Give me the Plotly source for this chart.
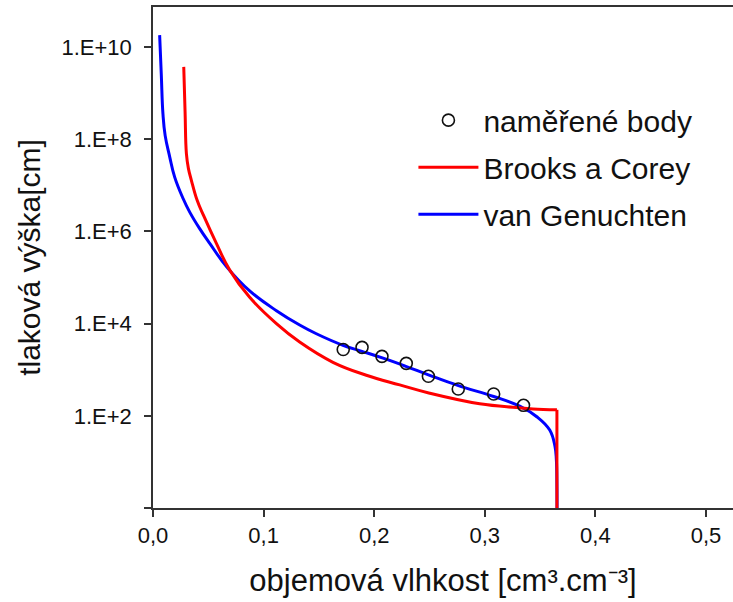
import plotly.graph_objects as go

# measured points
meas_theta = [0.172, 0.189, 0.207, 0.229, 0.249, 0.276, 0.308, 0.335]
meas_h = [2750, 3060, 1950, 1377, 720, 381, 297, 169]

# Brooks a Corey curve: unsaturated branch, then saturated drop
bc_theta = [0.0278, 0.0290, 0.0302, 0.0320, 0.0347, 0.0400, 0.0460, 0.0573, 0.0694,
            0.0874, 0.1116, 0.1326, 0.1627, 0.1929, 0.2231, 0.2502, 0.2954,
            0.3286, 0.3436, 0.3652]
bc_h = [3.72e9, 3.98e8, 4.90e7, 2.34e7, 1.29e7, 4.68e6, 2.14e6, 5.50e5, 1.45e5,
        3.72e4, 1.00e4, 3.98e3, 1.45e3, 759, 468, 309, 182,
        151, 141, 135]
bc_sat_theta = [0.3652, 0.3652]
bc_sat_h = [135, 0.3]

# van Genuchten curve
vg_theta = [0.0060, 0.0075, 0.0090, 0.0110, 0.0151, 0.0196, 0.0271, 0.0332, 0.0422,
            0.0513, 0.0670, 0.0874, 0.1116, 0.1326, 0.1477, 0.1718, 0.1890, 0.2080,
            0.2280, 0.2490, 0.2755, 0.3080, 0.3316, 0.3470, 0.3587, 0.3635, 0.3647,
            0.3652, 0.3653]
vg_h = [1.82e10, 2.51e9, 3.55e8, 1.20e8, 4.17e7, 1.51e7, 5.25e6, 2.63e6, 1.15e6,
        5.50e5, 1.66e5, 5.13e4, 1.91e4, 9.33e3, 6.03e3, 3.39e3, 2.51e3, 1.78e3,
        1.20e3, 776, 457, 263, 162, 95.5, 49, 21.4, 11,
        3.16, 0.316]

x_tickvals = [0.0, 0.1, 0.2, 0.3, 0.4, 0.5]
x_ticktext = ["0,0", "0,1", "0,2", "0,3", "0,4", "0,5"]
y_tickvals = [1, 1e2, 1e4, 1e6, 1e8, 1e10]
y_ticktext = ["", "1.E+2", "1.E+4", "1.E+6", "1.E+8", "1.E+10"]

FONT = "Arial, Liberation Sans, sans-serif"
RED = "#FF0000"
BLUE = "#0000FF"

fig = go.Figure()
fig.add_trace(go.Scatter(x=vg_theta, y=vg_h, mode="lines", name="van Genuchten",
                         line=dict(color=BLUE, width=3, shape="spline", smoothing=1.2),
                         legendrank=3, legendgroup="c"))
fig.add_trace(go.Scatter(x=bc_theta, y=bc_h, mode="lines", name="Brooks a Corey",
                         line=dict(color=RED, width=3, shape="spline", smoothing=1.2),
                         legendrank=2, legendgroup="b"))
fig.add_trace(go.Scatter(x=bc_sat_theta, y=bc_sat_h, mode="lines", name="Brooks a Corey",
                         line=dict(color=RED, width=3), showlegend=False,
                         legendgroup="b"))
fig.add_trace(go.Scatter(x=meas_theta, y=meas_h, mode="markers", name="naměřené body",
                         marker=dict(symbol="circle-open", size=12, color="#111111",
                                     line=dict(width=1.6, color="#111111")),
                         legendrank=1, legendgroup="a"))

fig.update_layout(
    width=733, height=602,
    margin=dict(l=153, r=0, t=7, b=94),
    paper_bgcolor="white", plot_bgcolor="white",
    font=dict(family=FONT, color="#111111"),
    showlegend=True,
    legend=dict(x=0.449, y=0.826, xanchor="left", yanchor="top",
                font=dict(size=30, family=FONT, color="#111111"),
                tracegroupgap=5, itemwidth=60, bgcolor="rgba(0,0,0,0)"),
    xaxis=dict(range=[0, 0.5244], tickvals=x_tickvals, ticktext=x_ticktext,
               ticks="outside", ticklen=7, tickwidth=1.5, tickcolor="#333333",
               showline=True, linecolor="#333333", linewidth=1.5, mirror=True,
               showgrid=False, zeroline=False,
               tickfont=dict(size=22, family=FONT, color="#111111"),
               title=dict(text="objemová vlhkost [cm³.cm⁻³]",
                          font=dict(size=31, family=FONT, color="#111111"),
                          standoff=22)),
    yaxis=dict(type="log", range=[0, 10.87], tickvals=y_tickvals, ticktext=y_ticktext,
               ticks="outside", ticklen=7, tickwidth=1.5, tickcolor="#333333",
               showline=True, linecolor="#333333", linewidth=1.5,
               showgrid=False, zeroline=False, ticklabelstandoff=8,
               tickfont=dict(size=22, family=FONT, color="#111111"),
               title=dict(text="tlaková výška[cm]",
                          font=dict(size=30, family=FONT, color="#111111"),
                          standoff=12)),
)

fig.write_html("out.html")
